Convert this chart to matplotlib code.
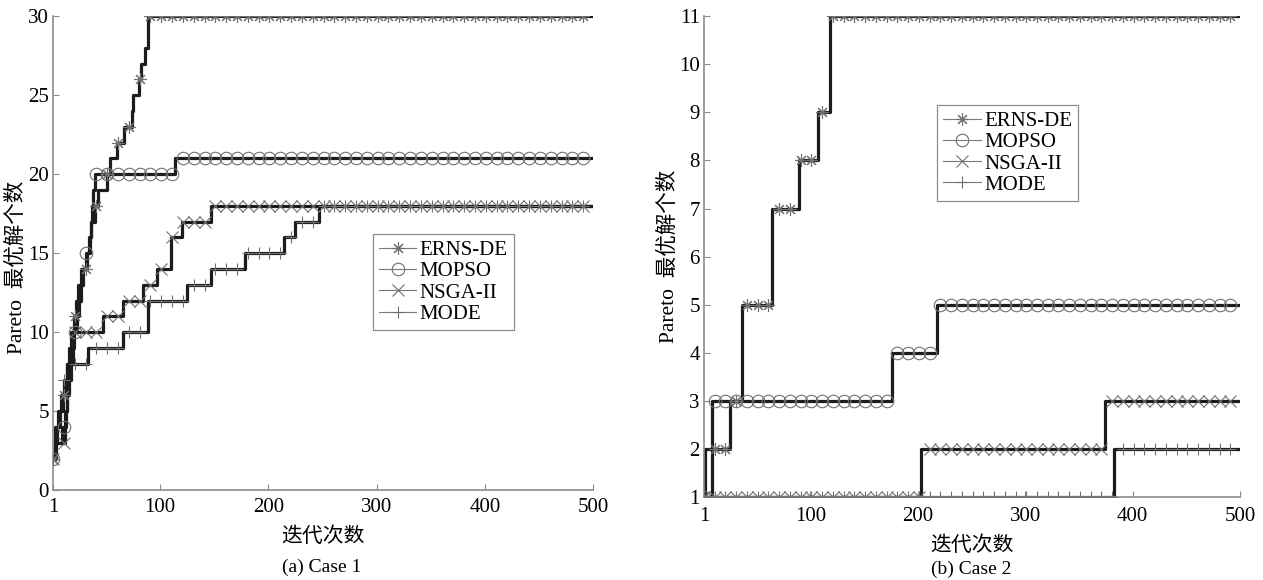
import numpy as np
import matplotlib
matplotlib.use('Agg')
import matplotlib.pyplot as plt
from matplotlib.lines import Line2D

plt.rcParams['font.family'] = ['Liberation Serif', 'Noto Sans CJK SC']

# Iterasi 1..500
iters = np.arange(1, 501)

# Case 1: titik perubahan (iterasi, jumlah solusi Pareto)
ernsde_a_x = [1, 3, 5, 7, 10, 12, 14, 16, 18, 20, 22, 24, 27, 32, 34, 36, 40, 43, 51, 54, 60, 67, 74, 75, 80, 82, 86, 89]
ernsde_a_y = [2, 3, 4, 5, 6, 7, 8, 9, 10, 11, 12, 13, 14, 15, 16, 17, 18, 19, 20, 21, 22, 23, 24, 25, 26, 27, 28, 30]
mopso_a_x = [1, 4, 9, 12, 14, 16, 18, 19, 20, 23, 25, 27, 29, 31, 35, 36, 37, 38, 40, 114]
mopso_a_y = [2, 3, 4, 5, 6, 7, 8, 9, 10, 11, 12, 13, 14, 15, 16, 17, 18, 19, 20, 21]
nsga_a_x = [1, 3, 12, 13, 14, 15, 16, 17, 19, 47, 66, 84, 97, 110, 120, 147]
nsga_a_y = [2, 3, 4, 5, 6, 7, 8, 9, 10, 11, 12, 13, 14, 16, 17, 18]
mode_a_x = [1, 3, 6, 8, 11, 14, 33, 66, 89, 125, 147, 178, 214, 225, 247]
mode_a_y = [2, 4, 5, 6, 7, 8, 9, 10, 12, 13, 14, 15, 16, 17, 18]

# Case 2
ernsde_b_x = [1, 2, 25, 36, 64, 89, 107, 118]
ernsde_b_y = [1, 2, 3, 5, 7, 8, 9, 11]
mopso_b_x = [1, 8, 176, 218]
mopso_b_y = [1, 3, 4, 5]
nsga_b_x = [1, 203, 374]
nsga_b_y = [1, 2, 3]
mode_b_x = [1, 383]
mode_b_y = [1, 2]

labels = ['ERNS-DE', 'MOPSO', 'NSGA-II', 'MODE']
markers = [(8, 2, 0), 'o', 'x', '+']
xticks = [1, 100, 200, 300, 400, 500]


def step_values(bx, by):
    idx = np.searchsorted(bx, iters, side='right') - 1
    return np.array(by)[idx]


def draw(ax, series, xpad):
    for (bx, by), mk in zip(series, markers):
        y = step_values(bx, by)
        ax.plot(iters, y, color='#1c1c1c', lw=2.3, drawstyle='steps-post', zorder=2)
        ax.plot(iters[::10], y[::10], ls='none', marker=mk, ms=9, mfc='none',
                mec='#707070', mew=0.8, zorder=3)
    for s in ['top', 'right']:
        ax.spines[s].set_visible(False)
    for s in ['left', 'bottom']:
        ax.spines[s].set_color('#8c8c8c')
        ax.spines[s].set_linewidth(1.2)
    ax.tick_params(direction='in', length=4, color='#8c8c8c', labelsize=15, pad=3)
    ax.tick_params(axis='x', pad=xpad)
    ax.set_xlim(1, 500)
    ax.set_xticks(xticks)


def legend(ax, anchor):
    handles = [Line2D([], [], color='#7a7a7a', lw=0.8, marker=mk, ms=9, mfc='none',
                      mec='#6e6e6e', mew=0.8) for mk in markers]
    lg = ax.legend(handles, labels, loc='upper left', bbox_to_anchor=anchor, fontsize=15,
                   frameon=True, fancybox=False, handlelength=1.8, handletextpad=0.15,
                   labelspacing=0.08, borderpad=0.3, borderaxespad=0)
    lg.get_frame().set_edgecolor('#707070')
    lg.get_frame().set_linewidth(0.9)


fig = plt.figure(figsize=(12.63, 5.8), dpi=100)

ax1 = fig.add_axes([0.042, 0.155, 0.4275, 0.817])
draw(ax1, [(ernsde_a_x, ernsde_a_y), (mopso_a_x, mopso_a_y),
           (nsga_a_x, nsga_a_y), (mode_a_x, mode_a_y)], 6)
ax1.set_ylim(0, 30)
ax1.set_yticks([0, 5, 10, 15, 20, 25, 30])
ax1.set_ylabel('Pareto  最优解个数', fontsize=15.5)
ax1.yaxis.set_label_coords(-0.048, 0.47)
ax1.set_xlabel('迭代次数', fontsize=15, labelpad=7)
legend(ax1, (0.592, 0.54))

ax2 = fig.add_axes([0.5574, 0.143, 0.4244, 0.829])
draw(ax2, [(ernsde_b_x, ernsde_b_y), (mopso_b_x, mopso_b_y),
           (nsga_b_x, nsga_b_y), (mode_b_x, mode_b_y)], 7)
ax2.set_ylim(1, 11)
ax2.set_yticks(range(1, 12))
ax2.set_ylabel('Pareto  最优解个数', fontsize=15.5)
ax2.yaxis.set_label_coords(-0.046, 0.5)
ax2.set_xlabel('迭代次数', fontsize=15, labelpad=8)
legend(ax2, (0.435, 0.815))

fig.text(0.255, 1 - 567 / 580, '(a) Case 1', ha='center', va='center', fontsize=14)
fig.text(0.769, 1 - 569 / 580, '(b) Case 2', ha='center', va='center', fontsize=14)

fig.savefig('out.png', dpi=100)
